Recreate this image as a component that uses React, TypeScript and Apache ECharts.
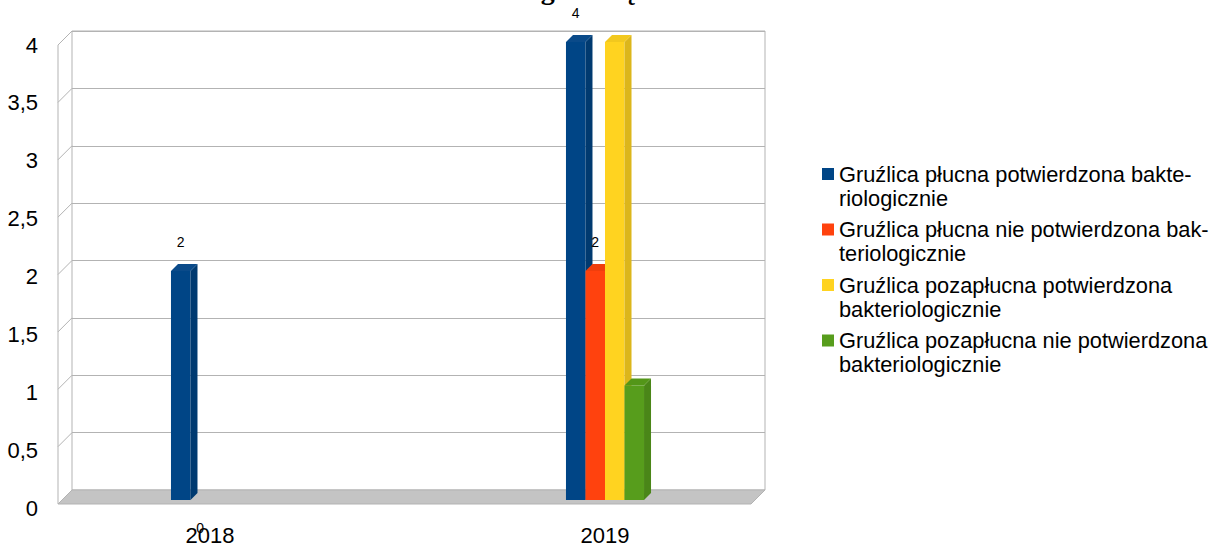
import React, { useEffect, useRef } from "react";
import * as echarts from "echarts";

const title = "Zachorowania na gruźlicę w latach 2018-2019";
const categories = ["2018", "2019"];
const seriesNames = [
  "Gruźlica płucna potwierdzona bakteriologicznie",
  "Gruźlica płucna nie potwierdzona bakteriologicznie",
  "Gruźlica pozapłucna potwierdzona bakteriologicznie",
  "Gruźlica pozapłucna nie potwierdzona bakteriologicznie",
];
const legendLabels = [
  "Gruźlica płucna potwierdzona bakte-\nriologicznie",
  "Gruźlica płucna nie potwierdzona bak-\nteriologicznie",
  "Gruźlica pozapłucna potwierdzona\nbakteriologicznie",
  "Gruźlica pozapłucna nie potwierdzona\nbakteriologicznie",
];
const plucnaPotwierdzona = [2, 4];
const plucnaNiePotwierdzona = [0, 2];
const pozaplucnaPotwierdzona = [0, 4];
const pozaplucnaNiePotwierdzona = [0, 1];
const seriesValues = [plucnaPotwierdzona, plucnaNiePotwierdzona, pozaplucnaPotwierdzona, pozaplucnaNiePotwierdzona];
const showValueLabels = [true, true, false, false];
const yTicks = [0, 0.5, 1, 1.5, 2, 2.5, 3, 3.5, 4];

const frontColors = ["#004586", "#ff420e", "#ffd320", "#579d1c"];
const sideColors = ["#003a70", "#d9380c", "#dcb61b", "#4a8618"];
const topColors = ["#0a4a89", "#f03e0d", "#f2c81e", "#539618"];

const WALL_DEPTH = 14;
const BAR_DEPTH = 7;
const BAR_FRAC = 0.0494;
const GRID_COLOR = "#b3b3b3";
const FONT = "Liberation Sans";

export default function App() {
  const ref = useRef<HTMLDivElement>(null);
  useEffect(() => {
    if (!ref.current) return;
    const chart = echarts.init(ref.current, null, { renderer: "svg" });
    const yMax = yTicks[yTicks.length - 1];
    const nS = seriesValues.length;

    const frameSeries: any = {
      type: "custom",
      name: "__frame",
      xAxisIndex: 0,
      yAxisIndex: 0,
      clip: false,
      silent: true,
      z: 1,
      data: yTicks.map((t) => [0, t]),
      renderItem: (params: any, api: any) => {
        const t = api.value(1);
        const p = api.coord([0, t]);
        const D = WALL_DEPTH;
        const children: any[] = [
          {
            type: "line",
            shape: { x1: p[0], y1: p[1], x2: p[0] - D, y2: p[1] + D },
            style: { stroke: GRID_COLOR, lineWidth: 1 },
          },
        ];
        if (t === 0) {
          const pr = api.coord([1, 0]);
          const pt = api.coord([0, yMax]);
          children.unshift({
            type: "polygon",
            shape: {
              points: [
                [p[0], p[1]],
                [pr[0], pr[1]],
                [pr[0] - D, pr[1] + D],
                [p[0] - D, p[1] + D],
              ],
            },
            style: { fill: "#c4c4c4", stroke: GRID_COLOR, lineWidth: 1 },
          });
          children.push({
            type: "line",
            shape: { x1: p[0] - D, y1: p[1] + D, x2: pt[0] - D, y2: pt[1] + D },
            style: { stroke: GRID_COLOR, lineWidth: 1 },
          });
        }
        return { type: "group", children };
      },
    };

    const barSeries = seriesValues.map((vals, s) => ({
      type: "custom",
      name: seriesNames[s],
      xAxisIndex: 2,
      yAxisIndex: 2,
      clip: false,
      z: 5 + s,
      itemStyle: { color: frontColors[s] },
      data: vals.map((v, i) => [i, v]),
      renderItem: (params: any, api: any) => {
        const ci = api.value(0);
        const v = api.value(1);
        const base = api.coord([ci, 0]);
        const top = api.coord([ci, v]);
        const band = api.size([1, 0])[0];
        const bw = band * BAR_FRAC;
        const x0 = base[0] + (s - nS / 2) * bw;
        const d = BAR_DEPTH;
        const children: any[] = [];
        if (v > 0) {
          children.push({
            type: "rect",
            shape: { x: x0, y: top[1], width: bw, height: base[1] - top[1] },
            style: { fill: frontColors[s] },
          });
          children.push({
            type: "polygon",
            shape: {
              points: [
                [x0 + bw, top[1]],
                [x0 + bw + d, top[1] - d],
                [x0 + bw + d, base[1] - d],
                [x0 + bw, base[1]],
              ],
            },
            style: { fill: sideColors[s] },
          });
          children.push({
            type: "polygon",
            shape: {
              points: [
                [x0, top[1]],
                [x0 + d, top[1] - d],
                [x0 + bw + d, top[1] - d],
                [x0 + bw, top[1]],
              ],
            },
            style: { fill: topColors[s] },
          });
        }
        if (showValueLabels[s]) {
          children.push({
            type: "text",
            x: x0 + bw / 2,
            y: v > 0 ? top[1] - 29 : base[1] + 28,
            style: {
              text: String(v),
              fill: "#000",
              font: `14px "${FONT}"`,
              align: "center",
              verticalAlign: "middle",
            },
            z2: 100,
          });
        }
        return { type: "group", children };
      },
    }));

    chart.setOption({
      animation: false,
      backgroundColor: "#ffffff",
      title: {
        text: title,
        left: 325,
        top: -25,
        padding: 0,
        textStyle: { fontFamily: "Liberation Serif", fontWeight: "bold", fontSize: 28, color: "#000" },
      },
      legend: {
        data: seriesNames,
        orient: "vertical",
        left: 817,
        top: 133,
        itemWidth: 12,
        itemHeight: 12,
        itemGap: -16.5,
        icon: "rect",
        formatter: (name: string) => "\n" + legendLabels[seriesNames.indexOf(name)],
        textStyle: { fontFamily: FONT, fontSize: 21.8, lineHeight: 24, color: "#000" },
      },
      grid: [
        { left: 72, right: 446, top: 31, bottom: 56, show: true, borderColor: GRID_COLOR, borderWidth: 1, backgroundColor: "transparent" },
        { left: 58, right: 446, top: 45, bottom: 38 },
        { left: 12.5, right: 408.5, top: 42, bottom: 44 },
      ],
      xAxis: [
        { gridIndex: 0, type: "value", min: 0, max: 1, show: false },
        { gridIndex: 1, type: "value", min: 0, max: 1, show: false },
        {
          gridIndex: 2,
          type: "category",
          data: categories,
          axisLine: { show: false },
          axisTick: { show: false },
          axisLabel: { fontFamily: FONT, fontSize: 22, color: "#000", margin: 24 },
        },
      ],
      yAxis: [
        {
          gridIndex: 0,
          type: "value",
          min: 0,
          max: yMax,
          interval: 0.5,
          axisLabel: { show: false },
          axisLine: { show: false },
          axisTick: { show: false },
          splitLine: { lineStyle: { color: GRID_COLOR, width: 1 } },
        },
        {
          gridIndex: 1,
          type: "value",
          min: 0,
          max: yMax,
          interval: 0.5,
          axisLine: { show: false },
          axisTick: { show: false },
          splitLine: { show: false },
          axisLabel: {
            fontFamily: FONT,
            fontSize: 22,
            color: "#000",
            margin: 20,
            formatter: (v: number) => String(v).replace(".", ","),
          },
        },
        { gridIndex: 2, type: "value", min: 0, max: yMax, show: false },
      ],
      series: [frameSeries, ...barSeries],
    });
    return () => chart.dispose();
  }, []);
  return <div ref={ref} style={{ position: "fixed", left: 0, top: 0, width: 1211, height: 546 }} />;
}
